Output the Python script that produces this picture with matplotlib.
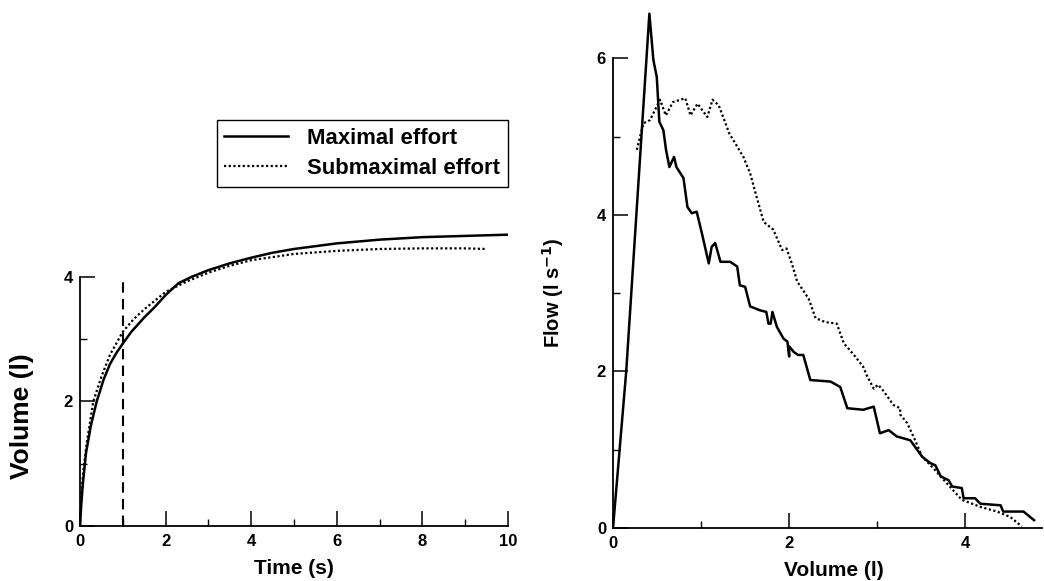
import matplotlib
matplotlib.use("Agg")
import matplotlib.pyplot as plt
from matplotlib.ticker import MultipleLocator

plt.rcParams["font.family"] = ["Liberation Sans", "DejaVu Sans"]
plt.rcParams["font.weight"] = "bold"

# volume-time curves
time_max = [0, 0.03, 0.07, 0.14, 0.25, 0.39, 0.55, 0.7, 0.85, 1.0, 1.2, 1.5, 1.75,
            2.0, 2.3, 2.6, 3.0, 3.5, 4.0, 4.5, 5.0, 6.0, 7.0, 8.0, 9.0, 10.0]
vol_max = [0, 0.35, 0.7, 1.17, 1.6, 2.0, 2.35, 2.6, 2.78, 2.93, 3.12, 3.35, 3.52,
           3.71, 3.9, 4.0, 4.11, 4.22, 4.31, 4.39, 4.45, 4.54, 4.60, 4.64, 4.66, 4.68]
time_sub = [0, 0.03, 0.08, 0.15, 0.31, 0.5, 0.7, 1.0, 1.25, 1.5, 2.0, 2.5, 3.0,
            3.5, 4.0, 5.0, 6.0, 7.0, 8.0, 9.0, 9.5]
vol_sub = [0, 0.5, 0.9, 1.3, 2.0, 2.4, 2.75, 3.12, 3.32, 3.48, 3.76, 3.93, 4.07,
           4.18, 4.27, 4.37, 4.42, 4.45, 4.46, 4.46, 4.45]
fev_time = 1.0

# flow-volume curves
fv_vol_max = [0, 0.15, 0.413, 0.458, 0.497, 0.526, 0.572, 0.602, 0.64, 0.693, 0.72,
              0.80, 0.845, 0.894, 0.95, 1.01, 1.087, 1.12, 1.16, 1.22, 1.33, 1.41,
              1.44, 1.50, 1.557, 1.67, 1.74, 1.765, 1.79, 1.81, 1.86, 1.935, 1.98,
              2.0, 2.0, 2.05, 2.1, 2.16, 2.24, 2.47, 2.58, 2.66, 2.84, 2.96, 3.03,
              3.13, 3.22, 3.375, 3.51, 3.60, 3.66, 3.72, 3.81, 3.85, 3.96, 3.98,
              4.11, 4.17, 4.40, 4.43, 4.66, 4.78]
fv_flow_max = [0, 2.0, 6.57, 5.98, 5.76, 5.19, 5.08, 4.83, 4.61, 4.74, 4.61,
               4.47, 4.10, 4.02, 4.04, 3.76, 3.38, 3.59, 3.64, 3.40, 3.40, 3.34,
               3.10, 3.08, 2.83, 2.78, 2.76, 2.61, 2.61, 2.76, 2.57, 2.42, 2.38,
               2.19, 2.32, 2.25, 2.21, 2.21, 1.89, 1.87, 1.80, 1.53, 1.51, 1.55, 1.21,
               1.25, 1.17, 1.12, 0.91, 0.83, 0.80, 0.66, 0.61, 0.53, 0.51, 0.38,
               0.38, 0.31, 0.29, 0.21, 0.21, 0.10]
fv_vol_sub = [0.27, 0.345, 0.42, 0.477, 0.534, 0.60, 0.68, 0.82, 0.88, 0.96, 1.07,
              1.13, 1.20, 1.32, 1.48, 1.557, 1.63, 1.71, 1.82, 1.92, 1.97, 2.03,
              2.09, 2.22, 2.30, 2.41, 2.54, 2.62, 2.75, 2.84, 2.88, 2.96, 3.01,
              3.07, 3.185, 3.26, 3.26, 3.34, 3.43, 3.51, 3.64, 3.79, 3.96, 4.17,
              4.36, 4.51, 4.64]
fv_flow_sub = [4.83, 5.17, 5.21, 5.34, 5.47, 5.27, 5.44, 5.49, 5.27, 5.42, 5.25,
               5.47, 5.40, 5.04, 4.74, 4.53, 4.23, 3.91, 3.81, 3.55, 3.57, 3.38,
               3.15, 2.93, 2.68, 2.63, 2.61, 2.36, 2.19, 2.06, 1.95, 1.78, 1.83,
               1.75, 1.57, 1.53, 1.45, 1.34, 1.12, 0.91, 0.76, 0.57, 0.36, 0.27,
               0.21, 0.14, 0.02]

DOTS = (0, (1.0, 1.1))
W, H = 1044, 581

fig = plt.figure(figsize=(W / 100, H / 100), dpi=100)


def px_axes(x0, x1, y_top, y_bot):
    return fig.add_axes([x0 / W, 1 - y_bot / H, (x1 - x0) / W, (y_bot - y_top) / H])


def px_label(ax, axis, text, x, y, size):
    # place an axis label at a pixel position of the figure
    lab = ax.set_xlabel(text) if axis == "x" else ax.set_ylabel(text)
    lab.set_fontsize(size)
    lab.set_fontweight("bold")
    lab.set_verticalalignment("center")
    lab.set_horizontalalignment("center")
    getattr(ax, axis + "axis").set_label_coords(x / W, 1 - y / H, transform=fig.transFigure)


def style(ax):
    for side in ("top", "right"):
        ax.spines[side].set_visible(False)
    for side in ("left", "bottom"):
        ax.spines[side].set_linewidth(1.3)
    ax.tick_params(which="major", direction="in", length=11, width=1.1,
                   labelsize=12, pad=5)
    ax.tick_params(which="minor", direction="in", length=5, width=1.0)
    ax.tick_params(axis="x", which="major", pad=6)
    for lbl in ax.get_xticklabels() + ax.get_yticklabels():
        lbl.set_fontweight("bold")


# left panel
ax1 = px_axes(80, 508, 230, 526)
ax1.plot(time_max, vol_max, color="black", lw=1.8, label="Maximal effort")
ax1.plot(time_sub, vol_sub, color="black", lw=1.6, ls=DOTS, label="Submaximal effort")
ax1.vlines(fev_time, 0, 4, color="black", lw=1.5, linestyles=(0, (5, 3)))
ax1.set_xlim(0, 10)
ax1.set_ylim(0, 4.755)
ax1.spines["left"].set_bounds(0, 4)
ax1.set_xticks([0, 2, 4, 6, 8, 10])
ax1.set_yticks([0, 2, 4])
ax1.xaxis.set_minor_locator(MultipleLocator(1))
ax1.yaxis.set_minor_locator(MultipleLocator(1))
style(ax1)
px_label(ax1, "x", "Time (s)", 294, 568, 15)
px_label(ax1, "y", "Volume (l)", 22, 416, 19)
leg = ax1.legend(loc="upper right", bbox_to_anchor=(508 / W, 1 - 120 / H),
                 bbox_transform=fig.transFigure, fancybox=False, frameon=True,
                 edgecolor="black", framealpha=1, handlelength=2.9,
                 borderpad=0.35, labelspacing=0.42, handletextpad=0.85,
                 borderaxespad=0, prop={"size": 15.9, "weight": "bold"})
leg.get_frame().set_linewidth(1.0)

# right panel
ax2 = px_axes(613, 1042, 5, 528)
ax2.plot(fv_vol_max, fv_flow_max, color="black", lw=1.8)
ax2.plot(fv_vol_sub, fv_flow_sub, color="black", lw=1.6, ls=DOTS)
ax2.set_xlim(0, 4.87)
ax2.set_ylim(0, 6.68)
ax2.spines["left"].set_bounds(0, 6)
ax2.set_xticks([0, 2, 4])
ax2.set_yticks([0, 2, 4, 6])
ax2.xaxis.set_minor_locator(MultipleLocator(1))
ax2.yaxis.set_minor_locator(MultipleLocator(1))
style(ax2)
px_label(ax2, "x", "Volume (l)", 834, 571, 15)
px_label(ax2, "y", r"Flow (l s$^{\mathbf{-1}}$)", 553, 293, 14.5)

fig.savefig("out.png", dpi=100)
